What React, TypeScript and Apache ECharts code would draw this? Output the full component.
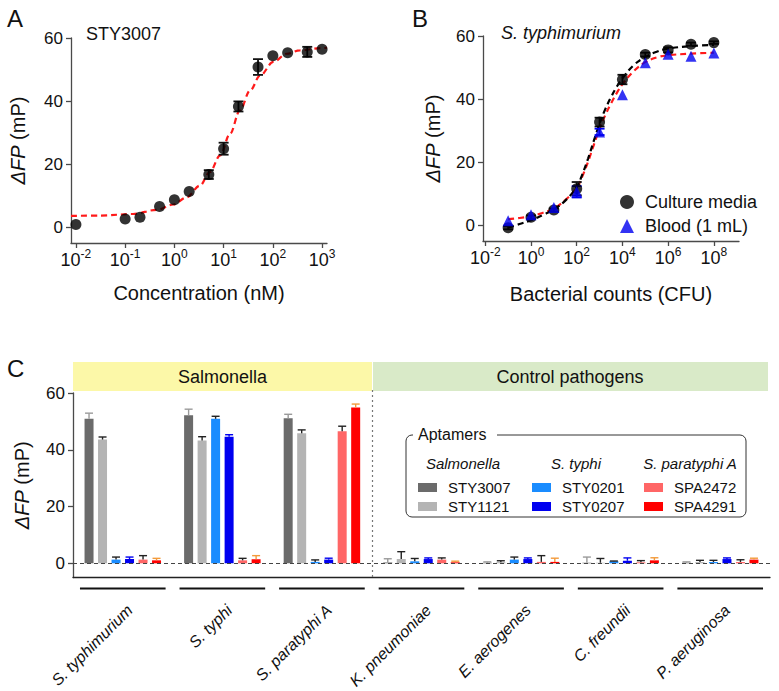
import React, { useEffect, useRef } from 'react';
import * as echarts from 'echarts';

const FONT = '"Liberation Sans", Arial, Helvetica, sans-serif';
const INK = '#111';
const AXIS = '#4a4a4a';

// ---------- Panel A ----------
const concA = [0.01, 0.1, 0.2, 0.5, 1, 2, 5, 10, 20, 50, 100, 200, 500, 1000];
const fpA = [0.9, 2.6, 3.2, 6.6, 8.7, 11.3, 16.7, 24.9, 38.3, 50.8, 54.4, 55.3, 55.6, 56.4];
const errA = [0, 0, 0, 0, 0, 0, 1.4, 1.9, 1.6, 2.5, 0, 0, 1.6, 0];
const fitLogA = [-2.1, -1.5, -0.84, -0.36, -0.02, 0.25, 0.52, 0.72, 0.93, 1.13, 1.33, 1.54, 1.74, 2.01, 2.28, 2.55, 3.0, 3.1];
const fitFpA = [3.6, 3.7, 4.2, 5.5, 7.2, 9.5, 13.2, 17.5, 22.8, 29.6, 37.0, 43.4, 48.1, 52.4, 55.0, 56.1, 56.8, 56.9];
const xTicksA = [-2, -1, 0, 1, 2, 3];

// ---------- Panel B ----------
const cfuB = [0.1, 1, 10, 100, 1e3, 1e4, 1e5, 1e6, 1e7, 1e8];
const cultureB = [-0.8, 2.5, 4.8, 11.6, 32.7, 46.2, 54.1, 55.6, 57.4, 57.9];
const cultureErrB = [0.5, 0.6, 0.5, 2.1, 1.4, 1.5, 0.6, 0.8, 0.5, 0.4];
const bloodB = [1.4, 3.3, 5.6, 10.6, 29.6, 41.4, 51.5, 54.2, 53.6, 54.6];
const bloodErrB = [0, 0, 0, 1.8, 1.0, 0, 0, 0, 0, 0];
const fitLogB = [-1, -0.5, 0, 0.5, 1, 1.5, 2, 2.25, 2.5, 2.75, 3, 3.25, 3.5, 3.75, 4, 4.5, 5, 5.5, 6, 7, 8];
const fitCultureB = [-0.8, 0.4, 1.6, 3.2, 5.0, 7.8, 12.1, 16.2, 21.2, 26.8, 32.2, 36.8, 40.6, 43.9, 46.6, 50.8, 53.3, 55.0, 56.0, 56.8, 57.2];
const fitBloodB = [1.9, 2.3, 2.9, 3.9, 5.3, 8.0, 11.8, 15.6, 20.2, 25.5, 30.6, 34.9, 38.6, 41.9, 44.7, 48.9, 51.7, 53.2, 53.9, 54.4, 54.7];
const xTicksB = [-2, 0, 2, 4, 6, 8];

const yTicks = [0, 20, 40, 60];

// ---------- Panel C ----------
const categories = ['S. typhimurium', 'S. typhi', 'S. paratyphi A', 'K. pneumoniae', 'E. aerogenes', 'C. freundii', 'P. aeruginosa'];
const aptamers = ['STY3007', 'STY1121', 'STY0201', 'STY0207', 'SPA2472', 'SPA4291'];
const sty3007 = [50.9, 52.2, 51.1, 0.3, 0.2, 0.2, 0.2];
const sty3007Err = [2.0, 2.1, 1.4, 1.3, 0.3, 2.0, 0.3];
const sty1121 = [43.6, 43.3, 45.8, 1.5, 0.4, 0.2, 0.45];
const sty1121Err = [0.9, 1.3, 1.2, 2.6, 0.5, 1.5, 0.6];
const sty0201 = [1.3, 50.9, 0.5, 0.7, 1.3, 0.7, 0.45];
const sty0201Err = [0.9, 0.9, 0.7, 1.0, 0.9, 0.1, 0.6];
const sty0207 = [1.5, 44.6, 1.3, 1.5, 1.5, 0.9, 1.5];
const sty0207Err = [0.7, 0.7, 0.5, 0.4, 0.4, 1.0, 0.4];
const spa2472 = [1.3, 1.05, 46.5, 1.3, 0.5, 0.35, 0.45];
const spa2472Err = [1.4, 0.7, 1.8, 0.6, 2.2, 0.6, 0.8];
const spa4291 = [1.05, 1.4, 54.9, 0.35, 0.5, 1.05, 1.3];
const spa4291Err = [0.7, 1.3, 1.2, 0.4, 1.3, 0.9, 0.5];

const barVals = [sty3007, sty1121, sty0201, sty0207, spa2472, spa4291];
const barErrs = [sty3007Err, sty1121Err, sty0201Err, sty0207Err, spa2472Err, spa4291Err];
const barColors = ['#6b6b6b', '#b4b4b4', '#1a8cff', '#0000f0', '#ff6666', '#ff0000'];
const errColors = ['#9a9a9a', '#222222', '#222222', '#0000f0', '#222222', '#f39a3a'];

const tickLabelStyle = { fontSize: 17, fontFamily: FONT, color: INK };

const powLabel = {
  formatter: (v: number) => `{b|10}{s|${v}}`,
  margin: 5,
  fontSize: 18,
  fontFamily: FONT,
  color: INK,
  rich: {
    b: { fontSize: 18, fontFamily: FONT, color: INK },
    s: { fontSize: 12, fontFamily: FONT, color: INK, padding: [0, 0, 11, 0] },
  },
};

const yName = '{it|ΔFP} (mP)';
const yNameStyle = {
  fontSize: 20,
  fontFamily: FONT,
  color: INK,
  rich: { it: { fontSize: 20, fontFamily: FONT, fontStyle: 'italic', color: INK } },
};

function valueXAxis(gridIndex: number, min: number, max: number, ticks: number[], name: string, nameGap: number) {
  return {
    gridIndex,
    type: 'value',
    min,
    max,
    axisLine: { onZero: false, lineStyle: { color: AXIS, width: 1.3 } },
    axisTick: { customValues: ticks, length: 5, lineStyle: { color: AXIS, width: 1.3 } },
    axisLabel: { ...powLabel, customValues: ticks },
    splitLine: { show: false },
    name,
    nameLocation: 'middle',
    nameGap,
    nameTextStyle: { fontSize: 20, fontFamily: FONT, color: INK },
  };
}

function valueYAxis(gridIndex: number, nameGap: number) {
  return {
    gridIndex,
    type: 'value',
    min: -5,
    max: 60,
    axisLine: { show: true, onZero: false, lineStyle: { color: AXIS, width: 1.3 } },
    axisTick: { show: true, customValues: yTicks, length: 5, lineStyle: { color: AXIS, width: 1.3 } },
    axisLabel: { ...tickLabelStyle, customValues: yTicks, margin: 8 },
    splitLine: { show: false },
    name: yName,
    nameLocation: 'middle',
    nameGap,
    nameTextStyle: yNameStyle,
  };
}

function errSeries(xi: number, xs: number[], ys: number[], es: number[], color: string) {
  return {
    type: 'custom',
    xAxisIndex: xi,
    yAxisIndex: xi,
    z: 3,
    silent: true,
    data: xs.map((x, i) => [x, ys[i], es[i]]).filter((d) => d[2] > 0),
    renderItem: (_p: any, api: any) => {
      const lo = api.coord([api.value(0), api.value(1) - api.value(2)]);
      const hi = api.coord([api.value(0), api.value(1) + api.value(2)]);
      const x = lo[0];
      const st = { stroke: color, lineWidth: 1.8 };
      return {
        type: 'group',
        children: [
          { type: 'line', shape: { x1: x, y1: lo[1], x2: x, y2: hi[1] }, style: st },
          { type: 'line', shape: { x1: x - 5, y1: lo[1], x2: x + 5, y2: lo[1] }, style: st },
          { type: 'line', shape: { x1: x - 5, y1: hi[1], x2: x + 5, y2: hi[1] }, style: st },
        ],
      };
    },
  };
}

const dashed = [6, 4];

export default function App() {
  const ref = useRef<HTMLDivElement>(null);
  useEffect(() => {
    if (!ref.current) return;
    const chart = echarts.init(ref.current, undefined, { renderer: 'svg' });

    const series: any[] = [];

    // Panel A
    series.push({
      type: 'line', name: 'fitA', xAxisIndex: 0, yAxisIndex: 0, smooth: 0.35, smoothMonotone: 'x',
      showSymbol: false, silent: true, z: 2,
      lineStyle: { color: '#ff1a1a', width: 2.2, type: dashed },
      data: fitLogA.map((x, i) => [x, fitFpA[i]]),
    });
    series.push(errSeries(0, concA.map((c) => Math.log10(c)), fpA, errA, '#111'));
    series.push({
      type: 'scatter', name: 'pointsA', xAxisIndex: 0, yAxisIndex: 0, symbol: 'circle', symbolSize: 11, z: 4,
      itemStyle: { color: '#000' },
      data: concA.map((c, i) => [Math.log10(c), fpA[i]]),
    });

    // Panel B
    series.push({
      type: 'line', name: 'fitBlood', xAxisIndex: 1, yAxisIndex: 1, smooth: 0.4,
      showSymbol: false, silent: true, z: 2,
      lineStyle: { color: '#ff1a1a', width: 2.2, type: dashed },
      data: fitLogB.map((x, i) => [x, fitBloodB[i]]),
    });
    series.push({
      type: 'line', name: 'fitCulture', xAxisIndex: 1, yAxisIndex: 1, smooth: 0.4,
      showSymbol: false, silent: true, z: 2,
      lineStyle: { color: '#000', width: 2.2, type: dashed },
      data: fitLogB.map((x, i) => [x, fitCultureB[i]]),
    });
    series.push(errSeries(1, cfuB.map((c) => Math.log10(c)), cultureB, cultureErrB, '#111'));
    series.push(errSeries(1, cfuB.map((c) => Math.log10(c)), bloodB, bloodErrB, '#0000f0'));
    series.push({
      type: 'scatter', name: 'Culture media', xAxisIndex: 1, yAxisIndex: 1, symbol: 'circle', symbolSize: 11, z: 4,
      itemStyle: { color: '#000' },
      data: cfuB.map((c, i) => [Math.log10(c), cultureB[i]]),
    });
    series.push({
      type: 'scatter', name: 'Blood (1 mL)', xAxisIndex: 1, yAxisIndex: 1, symbol: 'triangle', symbolSize: 11, z: 4,
      itemStyle: { color: '#0000f0' },
      data: cfuB.map((c, i) => [Math.log10(c), bloodB[i]]),
    });

    // Panel C bars
    aptamers.forEach((name, k) => {
      series.push({
        type: 'bar', name, xAxisIndex: 2, yAxisIndex: 2, barWidth: 9, barGap: '50%',
        itemStyle: { color: barColors[k] }, z: 2,
        data: barVals[k],
        ...(k === 0
          ? {
              markLine: {
                silent: true, symbol: ['none', 'none'], label: { show: false },
                lineStyle: { color: '#444', width: 1.2, type: [4, 3] },
                data: [{ yAxis: 0 }],
              },
            }
          : {}),
      });
    });
    aptamers.forEach((name, k) => {
      series.push({
        type: 'custom', name: name + ' error', xAxisIndex: 2, yAxisIndex: 2, z: 3, silent: true,
        encode: { x: 0, y: 1 },
        data: categories.map((_, i) => [i, barVals[k][i], barErrs[k][i]]),
        renderItem: (_p: any, api: any) => {
          const base = api.coord([api.value(0), api.value(1)]);
          const top = api.coord([api.value(0), api.value(1) + api.value(2)]);
          const x = base[0] + (k - 2.5) * 13.5;
          const st = { stroke: errColors[k], lineWidth: 1.4 };
          return {
            type: 'group',
            children: [
              { type: 'line', shape: { x1: x, y1: base[1], x2: x, y2: top[1] }, style: st },
              { type: 'line', shape: { x1: x - 4, y1: top[1], x2: x + 4, y2: top[1] }, style: st },
            ],
          };
        },
      });
    });
    // category underlines, rotated italic labels, and group separator
    series.push({
      type: 'custom', name: 'catLabels', xAxisIndex: 2, yAxisIndex: 2, silent: true, clip: false,
      encode: { x: 0, y: 1 },
      data: categories.map((_, i) => [i, -5]),
      renderItem: (params: any, api: any) => {
        const p = api.coord([api.value(0), -5]);
        const topY = api.coord([api.value(0), 60])[1];
        const w = api.size([1, 0])[0];
        const children: any[] = [
          {
            type: 'line',
            shape: { x1: p[0] - w * 0.43, y1: p[1] + 11, x2: p[0] + w * 0.43, y2: p[1] + 11 },
            style: { stroke: '#111', lineWidth: 2 },
          },
          {
            type: 'text',
            x: p[0] + 7,
            y: p[1] + 30,
            rotation: Math.PI / 4,
            style: {
              text: categories[params.dataIndex],
              fontSize: 16,
              fontFamily: FONT,
              fontStyle: 'italic',
              fill: INK,
              align: 'right',
              verticalAlign: 'middle',
            },
          },
        ];
        if (params.dataIndex === 3) {
          const sx = Math.round(p[0] - w / 2) + 0.5;
          children.push({
            type: 'line',
            shape: { x1: sx, y1: topY - 3, x2: sx, y2: p[1] },
            style: { stroke: '#777', lineWidth: 1.2, lineDash: [2, 3] },
          });
        }
        return { type: 'group', children };
      },
    });

    const txt = (x: number, y: number, text: string, size: number, opts: any = {}) => ({
      type: 'text',
      x,
      y,
      z: 10,
      style: {
        text,
        fontSize: size,
        fontFamily: FONT,
        fill: INK,
        textAlign: opts.align || 'left',
        align: opts.align || 'left',
        textVerticalAlign: 'middle',
        verticalAlign: 'middle',
        fontStyle: opts.italic ? 'italic' : 'normal',
      },
    });

    const option: any = {
      animation: false,
      backgroundColor: '#fff',
      grid: [
        { left: 71, top: 38, width: 256, height: 205, outerBoundsMode: 'none' },
        { left: 483, top: 36, width: 256, height: 205, outerBoundsMode: 'none' },
        { left: 73, top: 393, width: 697, height: 184.5, outerBoundsMode: 'none' },
      ],
      xAxis: [
        valueXAxis(0, -2.1, 3.1, xTicksA, 'Concentration (nM)', 40),
        valueXAxis(1, -2.1, 9.1, xTicksB, 'Bacterial counts (CFU)', 43),
        {
          gridIndex: 2,
          type: 'category',
          data: categories,
          axisLine: { onZero: false, lineStyle: { color: '#222', width: 1.3 } },
          axisTick: { show: false },
          axisLabel: { show: false },
          splitLine: { show: false },
        },
      ],
      yAxis: [valueYAxis(0, 43), valueYAxis(1, 40), valueYAxis(2, 41)],
      legend: [
        {
          orient: 'vertical', left: 615, top: 188, itemWidth: 14, itemHeight: 14, itemGap: 6, z: 20,
          selectedMode: false,
          textStyle: { fontSize: 18, fontFamily: FONT, color: INK, padding: [0, 0, 0, 6] },
          data: [
            { name: 'Culture media', icon: 'circle', itemStyle: { color: '#000' } },
            { name: 'Blood (1 mL)', icon: 'triangle', itemStyle: { color: '#0000f0' } },
          ],
        },
        ...[0, 1, 2].map((c) => ({
          orient: 'vertical', left: [413, 527, 639][c], top: 475, itemWidth: 19, itemHeight: 9, itemGap: 4, z: 20,
          selectedMode: false, icon: 'rect',
          textStyle: { fontSize: 15, fontFamily: FONT, color: INK, padding: [0, 0, 0, 6] },
          data: [aptamers[c * 2], aptamers[c * 2 + 1]],
        })),
      ],
      graphic: [
        txt(7, 18.5, 'A', 24),
        txt(412, 18.5, 'B', 24),
        txt(7, 368, 'C', 24),
        txt(86, 34, 'STY3007', 18),
        txt(501, 33, 'S. typhimurium', 18, { italic: true }),
        { type: 'rect', z: 1, shape: { x: 73, y: 362, width: 299, height: 29 }, style: { fill: '#fcf8a8' } },
        { type: 'rect', z: 1, shape: { x: 373, y: 362, width: 395, height: 29 }, style: { fill: '#d9eac8' } },
        txt(222.5, 377, 'Salmonella', 18, { align: 'center' }),
        txt(570, 377, 'Control pathogens', 18, { align: 'center' }),
        {
          type: 'rect', z: 1,
          shape: { x: 406, y: 435, width: 340, height: 82, r: 6 },
          style: { fill: 'none', stroke: '#333', lineWidth: 1 },
        },
        { type: 'rect', z: 2, shape: { x: 413, y: 426, width: 84, height: 18 }, style: { fill: '#fff' } },
        txt(418, 434, 'Aptamers', 16),
        txt(463, 463, 'Salmonella', 15, { align: 'center', italic: true }),
        txt(576, 463, 'S. typhi', 15, { align: 'center', italic: true }),
        txt(690, 463, 'S. paratyphi A', 15, { align: 'center', italic: true }),
      ],
      series,
    };

    chart.setOption(option);
    return () => chart.dispose();
  }, []);

  return (
    <div
      ref={ref}
      style={{ position: 'absolute', left: 0, top: 0, width: 779, height: 691, background: '#fff' }}
    />
  );
}
